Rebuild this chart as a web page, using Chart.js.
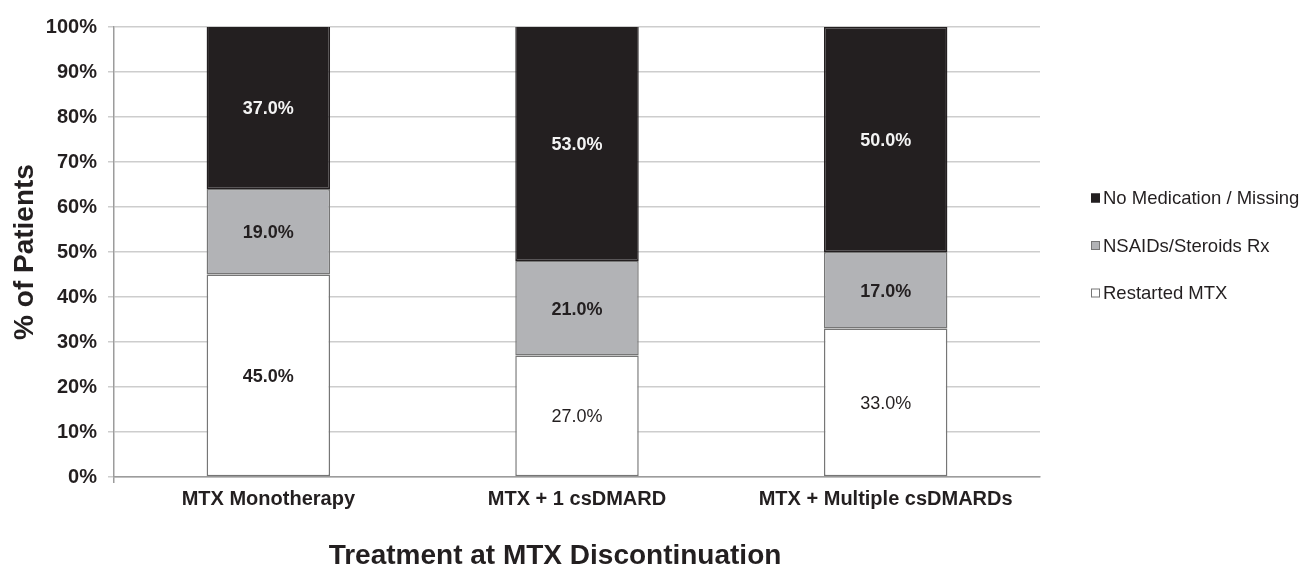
<!DOCTYPE html>
<html>
<head>
<meta charset="utf-8">
<title>Treatment at MTX Discontinuation</title>
<script src="https://cdn.jsdelivr.net/npm/chart.js@4.4.1/dist/chart.umd.min.js"></script>
<style>
  html, body { margin: 0; padding: 0; background: #ffffff; }
  canvas { display: block; }
</style>
</head>
<body>
<canvas id="chart" width="1304" height="566"></canvas>
<script>
// Share of patients by what happened after MTX was stopped
const categories = ['MTX Monotherapy', 'MTX + 1 csDMARD', 'MTX + Multiple csDMARDs'];
const restartedMTX = [45.0, 27.0, 33.0];
const nsaidsSteroids = [19.0, 21.0, 17.0];
const noMedication = [37.0, 53.0, 50.0];
const seriesNames = ['Restarted MTX', 'NSAIDs/Steroids Rx', 'No Medication / Missing'];
const yTicks = [0, 10, 20, 30, 40, 50, 60, 70, 80, 90, 100];
const xAxisTitle = 'Treatment at MTX Discontinuation';
const yAxisTitle = '% of Patients';

const FONT = "'Liberation Sans', Arial, Helvetica, sans-serif";
const INK = '#231f20';
const EDGE = '#767676';
const GRID = '#cdcdcd';
const AXIS = '#9c9c9c';

// labels printed in regular weight (dataset index, category index)
const regularLabels = new Set(['0-1', '0-2']);

// value labels centred on the visible part of each segment
const segmentLabels = {
  id: 'segmentLabels',
  afterDatasetsDraw(chart) {
    const { ctx, chartArea } = chart;
    const size = 18;
    ctx.save();
    ctx.textAlign = 'center';
    ctx.textBaseline = 'alphabetic';
    chart.data.datasets.forEach((ds, di) => {
      const meta = chart.getDatasetMeta(di);
      meta.data.forEach((bar, i) => {
        const top = Math.max(Math.min(bar.y, bar.base), chartArea.top);
        const bottom = Math.min(Math.max(bar.y, bar.base), chartArea.bottom);
        const weight = regularLabels.has(di + '-' + i) ? 'normal' : 'bold';
        ctx.font = weight + ' ' + size + 'px ' + FONT;
        ctx.fillStyle = ds.labelColor;
        // baseline placed so the digits sit centred in the segment
        ctx.fillText(ds.data[i].toFixed(1) + '%', bar.x, (top + bottom) / 2 + size * 0.36);
      });
    });
    ctx.restore();
  }
};

// legend on the right, top series first
const sideLegend = {
  id: 'sideLegend',
  afterDraw(chart, args, opts) {
    const { ctx, chartArea } = chart;
    const x = chartArea.right + opts.offsetX;
    ctx.save();
    ctx.font = opts.fontSize + 'px ' + FONT;
    ctx.textAlign = 'left';
    ctx.textBaseline = 'middle';
    const order = chart.data.datasets.map((d, i) => i).reverse();
    order.forEach((di, k) => {
      const ds = chart.data.datasets[di];
      const y = opts.firstY + k * opts.spacing;
      const s = opts.box;
      ctx.fillStyle = ds.backgroundColor;
      ctx.fillRect(x, y - s / 2, s, s);
      ctx.strokeStyle = ds.borderColor;
      ctx.lineWidth = 1;
      ctx.strokeRect(x + 0.5, y - s / 2 + 0.5, s - 1, s - 1);
      ctx.fillStyle = INK;
      ctx.fillText(ds.label, x + s + 3, y + 1);
    });
    ctx.restore();
  }
};

// category axis title under the tick labels
const bottomTitle = {
  id: 'bottomTitle',
  afterDraw(chart, args, opts) {
    const { ctx } = chart;
    ctx.save();
    ctx.font = 'bold ' + opts.fontSize + 'px ' + FONT;
    ctx.fillStyle = INK;
    ctx.textAlign = 'center';
    ctx.textBaseline = 'alphabetic';
    ctx.fillText(opts.text, opts.centerX, chart.height - opts.bottomGap);
    ctx.restore();
  }
};

new Chart(document.getElementById('chart'), {
  type: 'bar',
  data: {
    labels: categories,
    datasets: [
      { label: seriesNames[0], data: restartedMTX, backgroundColor: '#ffffff', borderColor: EDGE, labelColor: INK },
      { label: seriesNames[1], data: nsaidsSteroids, backgroundColor: '#b2b3b6', borderColor: EDGE, labelColor: INK },
      { label: seriesNames[2], data: noMedication, backgroundColor: INK, borderColor: INK, labelColor: '#f4f4f4' }
    ]
  },
  options: {
    responsive: false,
    animation: false,
    devicePixelRatio: 1,
    layout: { padding: { top: 27, right: 264, bottom: 0, left: 0 } },
    datasets: {
      bar: { barPercentage: 0.4, categoryPercentage: 1.0, borderWidth: 1.5, borderSkipped: false }
    },
    plugins: {
      legend: { display: false },
      tooltip: { enabled: false },
      sideLegend: { offsetX: 51, firstY: 198, spacing: 47.5, box: 9, fontSize: 18.5 },
      bottomTitle: { text: xAxisTitle, centerX: 555, bottomGap: 2, fontSize: 28 }
    },
    scales: {
      x: {
        stacked: true,
        afterFit(scale) { scale.height = 89; },
        border: { display: true, color: AXIS, width: 1.5 },
        grid: {
          display: true,
          drawOnChartArea: false,
          drawTicks: true,
          tickLength: 6,
          lineWidth: 1.5,
          color: (c) => (c.index === 0 || c.index === categories.length) ? AXIS : 'rgba(0,0,0,0)'
        },
        ticks: {
          color: INK,
          padding: 4,
          font: { family: FONT, size: 20, weight: 'bold' }
        }
      },
      y: {
        stacked: true,
        min: 0,
        max: 100,
        afterFit(scale) { scale.width = 114; },
        afterBuildTicks(scale) { scale.ticks = yTicks.map(v => ({ value: v })); },
        border: { display: true, color: AXIS, width: 1.5 },
        grid: { color: GRID, lineWidth: 1.5, tickLength: 6 },
        ticks: {
          color: INK,
          padding: 11,
          font: { family: FONT, size: 20, weight: 'bold' },
          callback: (v) => v + '%'
        },
        title: {
          display: true,
          text: yAxisTitle,
          color: INK,
          padding: { top: 8, bottom: 0 },
          font: { family: FONT, size: 28, weight: 'bold' }
        }
      }
    }
  },
  plugins: [segmentLabels, sideLegend, bottomTitle]
});
</script>
</body>
</html>
